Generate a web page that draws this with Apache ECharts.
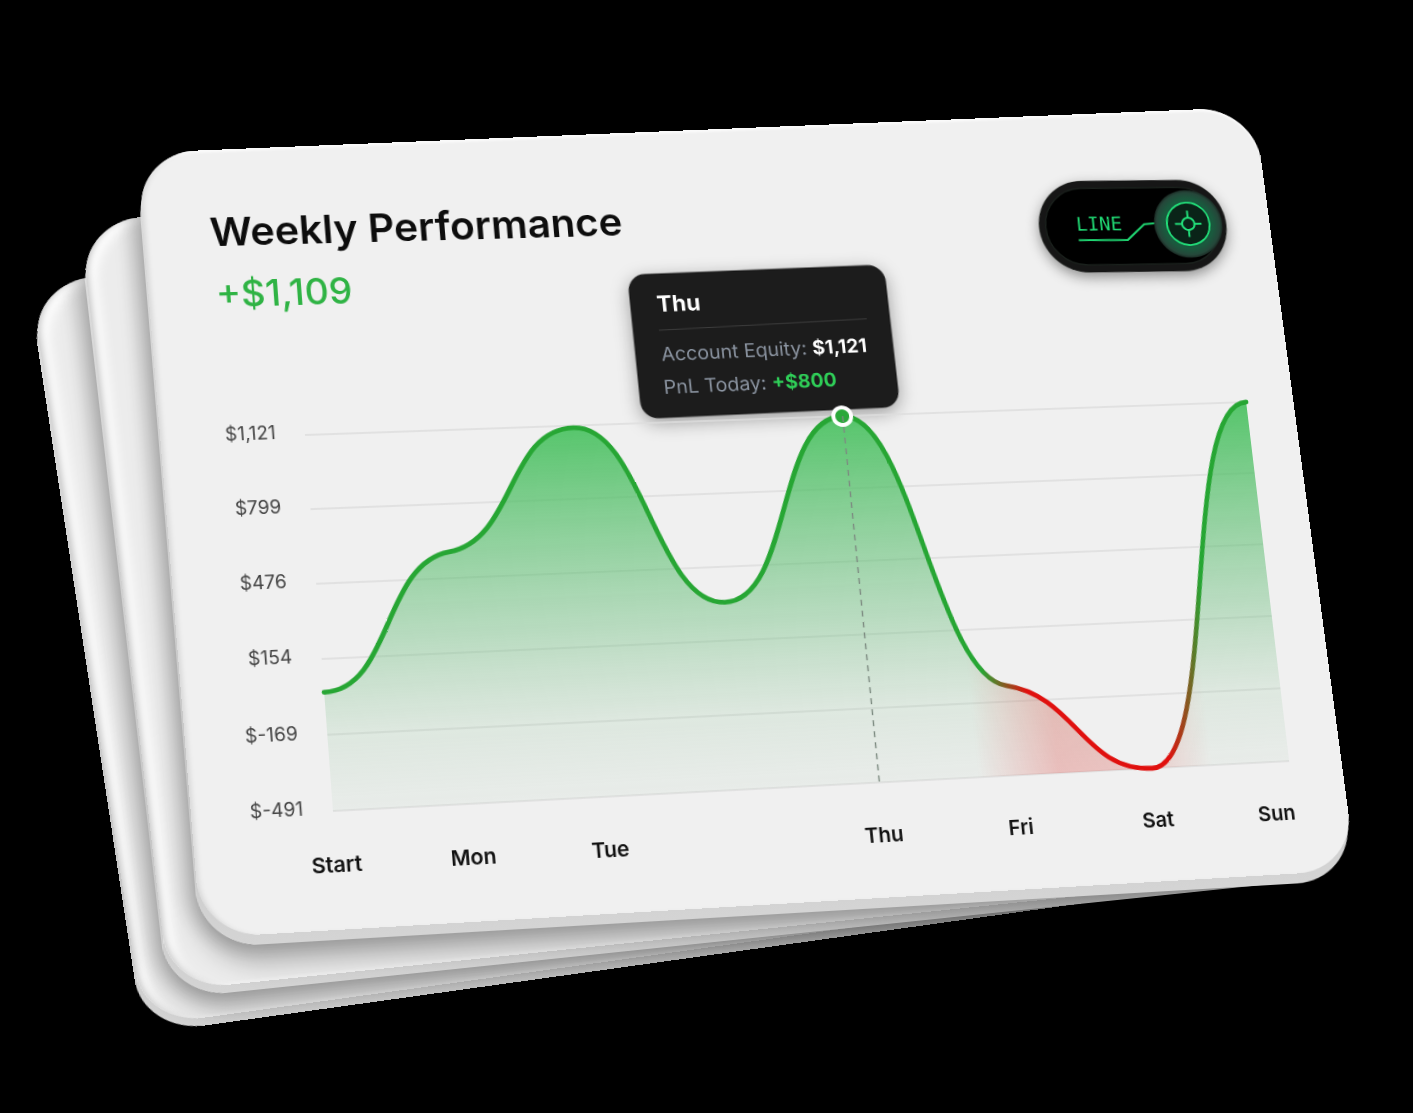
<!DOCTYPE html>
<html>
<head>
<meta charset="utf-8">
<style>
  html, body { margin: 0; padding: 0; width: 1413px; height: 1113px; background: #000; overflow: hidden; }
  .slab { position: absolute; left: 0; top: 0; transform-origin: 0 0; box-sizing: border-box; border-radius: 58px; }
  .rim { background: linear-gradient(180deg, #dcdcdc, #c6c6c6 80%, #d4d4d4); }
  .castshadow { box-shadow: 0 16px 26px rgba(0,0,0,.30), -9px 0 20px rgba(0,0,0,.16); }
  .face { background: #ececec; }
  .back { box-shadow: inset 6px 0 6px -4px #c2c2c2, inset 18px 8px 12px -9px #ffffff, inset 0 -3px 3px -1px #f6f6f6; }
  .top { background: #f0f0f0; box-shadow: inset 5px 0 5px -3px #d4d4d4, inset 0 3px 3px -1px #ffffff; }
  .plane { background: transparent; border-radius: 0; }
</style>
<script src="https://cdn.jsdelivr.net/npm/echarts@6/dist/echarts.min.js"></script>
</head>
<body>
<script>
// Weekly account equity
const categories = ['Start', 'Mon', 'Tue', 'Wed', 'Thu', 'Fri', 'Sat', 'Sun'];
const equity = [12, 590, 1112, 321, 1121, -98, -491, 1121];
const yTicks = [-491, -169, 154, 476, 799, 1121];
const hiddenCategory = 'Wed';
const focusCategory = 'Thu';
const headline = 'Weekly Performance';
const weeklyChange = '+$1,109';
const tipRows = ['Account Equity:', '$1,121', 'PnL Today:', '+$800'];

const CARD_W = 1130, CARD_H = 790;
const PLANE_W = 1240, PLANE_H = 800;
const PLOT = { left: 190, top: 300, width: 950, height: 370 };

// Solves the eight coefficients of the plane projection from src quad to dst quad.
function homography(src, dst) {
  const A = [];
  for (let i = 0; i < 4; i++) {
    const [x, y] = src[i], [u, v] = dst[i];
    A.push([x, y, 1, 0, 0, 0, -x * u, -y * u, u]);
    A.push([0, 0, 0, x, y, 1, -x * v, -y * v, v]);
  }
  for (let c = 0; c < 8; c++) {
    let p = c;
    for (let r = c + 1; r < 8; r++) if (Math.abs(A[r][c]) > Math.abs(A[p][c])) p = r;
    [A[c], A[p]] = [A[p], A[c]];
    for (let r = 0; r < 8; r++) {
      if (r === c) continue;
      const f = A[r][c] / A[c][c];
      for (let k = c; k < 9; k++) A[r][k] -= f * A[c][k];
    }
  }
  return A.map((row, i) => row[8] / row[i]);
}
const rectOf = (w, h, x = 0, y = 0) => [[x, y], [x + w, y], [x + w, y + h], [x, y + h]];
function addSlab(cls, src, quad, w, h) {
  const el = document.createElement('div');
  el.className = 'slab ' + cls;
  el.style.width = w + 'px';
  el.style.height = h + 'px';
  const m = homography(src, quad);
  el.style.transform = `matrix3d(${m[0]},${m[3]},0,${m[6]},${m[1]},${m[4]},0,${m[7]},0,0,1,0,${m[2]},${m[5]},0,1)`;
  document.body.appendChild(el);
  return el;
}
const addSheet = (cls, quad) => addSlab(cls, rectOf(CARD_W, CARD_H), quad, CARD_W, CARD_H);

// Stacked sheets behind the main card, furthest first.
const shift = (q, dx, dy) => q.map(([x, y]) => [x + dx, y + dy]);
const sheet3 = [[30, 282], [1170, 190], [1250, 872], [144, 1026]];
const sheet2 = [[80, 222], [1222, 132], [1320, 871], [169, 991]];
const sheet1 = [[137, 153], [1254, 107], [1356, 870], [201, 938]];
addSheet('rim', shift(sheet3, -1, 8));
addSheet('back face', sheet3);
addSheet('rim castshadow', shift(sheet2, -1, 8));
addSheet('back face', sheet2);
addSheet('rim castshadow', shift(sheet1, -1, 10));
addSheet('top', sheet1);

// The chart has its own drawing plane, pinned by the four corners of the plot area.
const plotQuad = [[305, 435], [1246, 402], [1289, 761], [333, 811]];
const plotRect = rectOf(PLOT.width, PLOT.height, PLOT.left, PLOT.top);
const host = addSlab('plane', plotRect, plotQuad, PLANE_W, PLANE_H);
const toFlat = homography(plotQuad, plotRect);
function flat(x, y) {
  const w = toFlat[6] * x + toFlat[7] * y + 1;
  return [(toFlat[0] * x + toFlat[1] * y + toFlat[2]) / w, (toFlat[3] * x + toFlat[4] * y + toFlat[5]) / w];
}
const chart = echarts.init(host, null, { renderer: 'svg', width: PLANE_W, height: PLANE_H });

// Days are evenly spaced as seen, so the axis undoes the foreshortening across the plane.
const depthRatio = (plotQuad[3][1] - plotQuad[0][1]) / (plotQuad[2][1] - plotQuad[1][1]);
const unproject = u => u / (u + (1 - u) * depthRatio);
const dayPos = categories.map((c, i) => unproject(i / (categories.length - 1)));
const posOf = name => dayPos[categories.indexOf(name)];
const shownPos = dayPos.filter((p, i) => categories[i] !== hiddenCategory);
const dayName = v => categories[dayPos.findIndex(p => Math.abs(p - v) < 1e-6)];

const money = v => '$' + (v < 0 ? '-' + Math.abs(v) : v.toLocaleString('en-US'));
const GREEN = '#27a634', RED = '#e0100e';

// Each knot is flat at turning points and nearly flat on the shoulders.
function knotSlopes(pts) {
  return pts.map((p, i) => {
    if (i === 0 || i === pts.length - 1) return 0;
    const a = pts[i - 1], b = pts[i + 1];
    if ((p[1] - a[1]) * (b[1] - p[1]) <= 0) return 0;
    return 0.15 * (b[1] - a[1]) / (b[0] - a[0]);
  });
}
function equityPaths(params, api) {
  if (params.dataIndex !== 0) return null;
  const pts = categories.map((c, i) => api.coord([api.value(0, i), api.value(1, i)]));
  const slopes = knotSlopes(pts);
  let d = `M${pts[0][0]} ${pts[0][1]}`;
  for (let i = 1; i < pts.length; i++) {
    const a = pts[i - 1], b = pts[i], h = (b[0] - a[0]) * 0.5;
    d += `C${a[0] + h} ${a[1] + slopes[i - 1] * h} ${b[0] - h} ${b[1] - slopes[i] * h} ${b[0]} ${b[1]}`;
  }
  const x0 = pts[0][0], x1 = pts[pts.length - 1][0];
  const top = api.coord([0, yTicks[yTicks.length - 1]])[1], base = api.coord([0, yTicks[0]])[1];
  const fillPath = d + `L${x1} ${base}L${x0} ${base}Z`;
  const across = stops => ({ type: 'linear', global: true, x: x0, y: 0, x2: x1, y2: 0,
    colorStops: stops.map(s => ({ offset: unproject(s.offset), color: s.color })) });
  return {
    type: 'group', children: [
      { type: 'path', shape: { pathData: fillPath }, style: { fill: { type: 'linear', global: true, x: 0, y: top, x2: 0, y2: base, colorStops: [
        { offset: 0, color: 'rgba(60,190,85,.86)' }, { offset: .3, color: 'rgba(72,186,95,.58)' }, { offset: .55, color: 'rgba(84,182,105,.36)' },
        { offset: .8, color: 'rgba(100,180,115,.13)' }, { offset: 1, color: 'rgba(100,170,115,.05)' }] } } },
      { type: 'path', shape: { pathData: fillPath }, style: { fill: across([
        { offset: .675, color: 'rgba(236,60,60,0)' }, { offset: .76, color: 'rgba(236,60,60,.26)' },
        { offset: .84, color: 'rgba(236,60,60,.22)' }, { offset: .92, color: 'rgba(236,60,60,0)' }]) } },
      { type: 'path', shape: { pathData: d }, style: { fill: 'none', lineWidth: 4.8, lineCap: 'round', stroke: across([
        { offset: 0, color: GREEN }, { offset: .69, color: GREEN }, { offset: .735, color: RED },
        { offset: .875, color: RED }, { offset: .93, color: GREEN }, { offset: 1, color: GREEN }]) } }
    ]
  };
}

// Tooltip card and chart-type switch are laid out around their centre points.
function tipGraphic() {
  const c = flat(764, 341), w = 260, h = 147, a = [c[0] - w / 2, c[1] - h / 2];
  const at = (x, y) => { const p = flat(x, y); return { x: p[0] - a[0], y: p[1] - a[1] }; };
  const d0 = at(659, 329), d1 = at(867, 320);
  return {
    type: 'group', x: a[0], y: a[1], originX: w / 2, originY: h / 2, rotation: 0.012, children: [
      { type: 'rect', shape: { x: 0, y: 0, width: w, height: h, r: 17 },
        style: { fill: '#1f1f1f', stroke: '#111', lineWidth: 1, shadowBlur: 18, shadowColor: 'rgba(0,0,0,.35)', shadowOffsetY: 5 } },
      { type: 'text', ...at(657, 303), style: { text: focusCategory, fill: '#fff', font: '700 23px Inter', verticalAlign: 'middle' } },
      { type: 'line', shape: { x1: d0.x, y1: d0.y, x2: d1.x, y2: d1.y }, style: { stroke: '#3e3e3e', lineWidth: 1.2 } },
      { type: 'text', ...at(661, 353), style: {
          text: `{a|${tipRows[0]} }{b|${tipRows[1]}}`, verticalAlign: 'middle',
          rich: { a: { fill: '#8c95a2', font: '400 19.7px Inter' }, b: { fill: '#fff', font: '700 19.7px Inter' } } } },
      { type: 'text', ...at(663, 386), style: {
          text: `{a|${tipRows[2]} }{b|${tipRows[3]}}`, verticalAlign: 'middle',
          rich: { a: { fill: '#8c95a2', font: '400 19.7px Inter' }, b: { fill: '#2fcf58', font: '700 19.7px Inter' } } } }
    ]
  };
}
function switchGraphic() {
  const c = flat(1133, 226), w = 197, h = 97, a = [c[0] - w / 2, c[1] - h / 2];
  const at = (x, y) => { const p = flat(x, y); return [p[0] - a[0], p[1] - a[1]]; };
  const k = at(1188, 223), t = at(1076, 225);
  const cross = [[[-14, 0], [-6.5, 0]], [[6.5, 0], [14, 0]], [[0, -14], [0, -6.5]], [[0, 6.5], [0, 14]]];
  return {
    type: 'group', x: a[0], y: a[1], originX: w / 2, originY: h / 2, rotation: -0.015, children: [
      { type: 'rect', shape: { x: 0, y: 0, width: w, height: h, r: h / 2 },
        style: { fill: '#131513', shadowBlur: 14, shadowColor: 'rgba(0,0,0,.4)', shadowOffsetY: 5 } },
      { type: 'rect', shape: { x: 7, y: 8, width: w - 14, height: h - 16, r: h / 2 - 8 }, style: { fill: '#000', stroke: '#1a201c', lineWidth: 1.5 } },
      { type: 'text', x: t[0], y: t[1], style: { text: 'LINE', fill: '#20d873', font: '400 20px "DejaVu Sans Mono"', verticalAlign: 'middle', shadowBlur: 5, shadowColor: 'rgba(32,216,115,.6)' } },
      { type: 'polyline', shape: { points: [at(1079, 241), at(1128, 240), at(1144, 224), at(1155, 223)] }, style: { stroke: '#20d873', lineWidth: 2, fill: 'none' } },
      { type: 'circle', shape: { cx: k[0], cy: k[1], r: 36 }, style: { fill: { type: 'radial', x: .5, y: .5, r: .5, colorStops: [{ offset: 0, color: '#0d3f29' }, { offset: .72, color: '#1a5a3e' }, { offset: .92, color: '#25473a' }, { offset: 1, color: '#1b2a24' }] } } },
      { type: 'circle', shape: { cx: k[0], cy: k[1], r: 22.5 }, style: { fill: '#0a2418', stroke: '#22e07a', lineWidth: 2 } },
      { type: 'circle', shape: { cx: k[0], cy: k[1], r: 6.5 }, style: { fill: 'none', stroke: '#22e07a', lineWidth: 2 } },
      ...cross.map(s => ({ type: 'line', shape: { x1: k[0] + s[0][0], y1: k[1] + s[0][1], x2: k[0] + s[1][0], y2: k[1] + s[1][1] }, style: { stroke: '#22e07a', lineWidth: 2 } }))
    ]
  };
}

const titlePos = flat(203, 208), changePos = flat(209, 271);
const focusValue = equity[categories.indexOf(focusCategory)];
chart.setOption({
  animation: false,
  backgroundColor: 'transparent',
  title: [
    { left: titlePos[0], top: titlePos[1], text: headline,
      textStyle: { fontFamily: 'Inter', fontWeight: 600, fontSize: 40.2, color: '#0d0d0d' } },
    { left: changePos[0], top: changePos[1], text: weeklyChange,
      textStyle: { fontFamily: 'Inter', fontWeight: 500, fontSize: 36.5, color: '#2fb344' } }
  ],
  grid: { left: PLOT.left, top: PLOT.top, width: PLOT.width, height: PLOT.height },
  xAxis: {
    type: 'value', min: 0, max: 1,
    axisLine: { show: false }, axisTick: { show: false, customValues: shownPos }, splitLine: { show: false },
    axisLabel: {
      customValues: shownPos, formatter: dayName, margin: 41, alignMaxLabel: 'right',
      fontFamily: 'Inter', fontWeight: 600, fontSize: 20.5, color: '#111'
    }
  },
  yAxis: {
    type: 'value', min: yTicks[0], max: yTicks[yTicks.length - 1],
    axisLine: { show: false },
    axisTick: { show: false, customValues: yTicks },
    splitLine: { show: true, lineStyle: { color: '#dcdcdc', width: 1.5 } },
    axisLabel: { customValues: yTicks, formatter: money, margin: 28, verticalAlign: 'bottom', lineHeight: 7, fontFamily: 'Inter', fontSize: 18.2, color: '#444' }
  },
  series: [
    {
      type: 'custom', name: 'Account Equity', renderItem: equityPaths, silent: true, z: 2,
      encode: { x: 0, y: 1 },
      data: categories.map((c, i) => [dayPos[i], equity[i]])
    },
    {
      type: 'scatter', name: 'Focus', silent: true, z: 3, symbol: 'circle', symbolSize: 18,
      itemStyle: { color: '#2aa83a', borderColor: '#fff', borderWidth: 4, opacity: 1 },
      data: [[posOf(focusCategory), focusValue]],
      markLine: {
        silent: true, symbol: 'none', label: { show: false },
        lineStyle: { color: '#7c8a80', width: 1.4, type: [6, 5] },
        data: [[{ coord: [posOf(focusCategory), focusValue] }, { coord: [posOf(focusCategory), yTicks[0]] }]]
      }
    }
  ],
  graphic: [tipGraphic(), switchGraphic()]
});
</script>
</body>
</html>
